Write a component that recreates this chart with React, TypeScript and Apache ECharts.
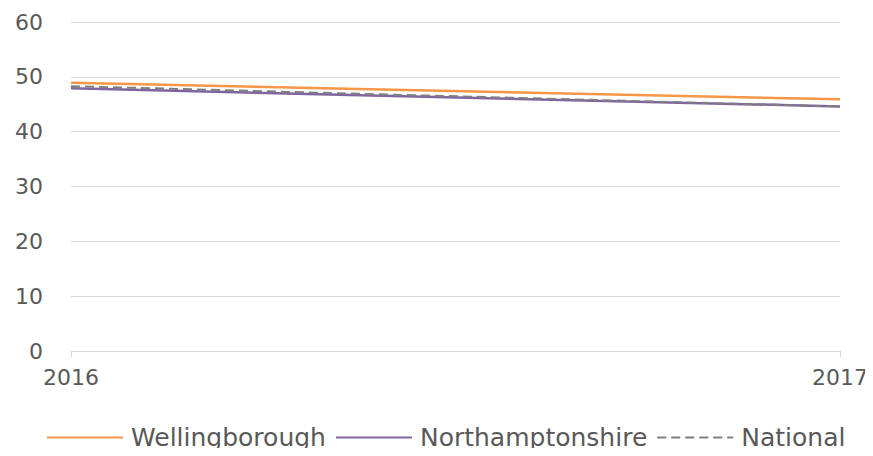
import React, { useEffect, useRef } from "react";
import * as echarts from "echarts";

const years = ["2016", "2017"];
const wellingborough = [48.9, 45.9];
const northamptonshire = [47.9, 44.6];
const national = [48.3, 44.6];
const yTicks = [0, 10, 20, 30, 40, 50, 60];

const FONT = "'DejaVu Sans', sans-serif";

export default function App() {
  const ref = useRef<HTMLDivElement>(null);
  useEffect(() => {
    if (!ref.current) return;
    const chart = echarts.init(ref.current, null, { renderer: "svg" });
    chart.setOption({
      animation: false,
      grid: { left: 71, right: 33, top: 22, bottom: 105 },
      xAxis: {
        type: "category",
        data: years,
        boundaryGap: false,
        axisLine: { lineStyle: { color: "#D9D9D9", width: 1 } },
        axisTick: { show: true, length: 6, lineStyle: { color: "#D9D9D9" } },
        axisLabel: { color: "#595959", fontSize: 22, fontFamily: FONT, margin: 15 },
      },
      yAxis: {
        type: "value",
        min: yTicks[0],
        max: yTicks[yTicks.length - 1],
        interval: 10,
        axisLine: { show: false },
        axisTick: { show: false },
        splitLine: { lineStyle: { color: "#D9D9D9", width: 1 } },
        axisLabel: { color: "#595959", fontSize: 22, fontFamily: FONT, margin: 28 },
      },
      legend: {
        top: 425,
        left: 46,
        padding: 0,
        itemWidth: 76,
        itemHeight: 14,
        itemGap: 9,
        itemStyle: { opacity: 0 },
        textStyle: {
          color: "#595959",
          fontSize: 25,
          lineHeight: 20,
          fontFamily: FONT,
          padding: [0, 0, 0, 3],
        },
        data: ["Wellingborough", "Northamptonshire", "National"],
      },
      series: [
        {
          name: "Wellingborough",
          type: "line",
          data: wellingborough,
          symbol: "none",
          lineStyle: { color: "#F79646", width: 2.5 },
          itemStyle: { color: "#F79646" },
        },
        {
          name: "Northamptonshire",
          type: "line",
          data: northamptonshire,
          symbol: "none",
          lineStyle: { color: "#8064A2", width: 2.5 },
          itemStyle: { color: "#8064A2" },
        },
        {
          name: "National",
          type: "line",
          data: national,
          symbol: "none",
          lineStyle: { color: "#7F7F7F", width: 2, type: [9, 5] },
          itemStyle: { color: "#7F7F7F" },
        },
      ],
    });
    return () => chart.dispose();
  }, []);
  return <div ref={ref} style={{ width: 873, height: 456, margin: -8 }} />;
}
